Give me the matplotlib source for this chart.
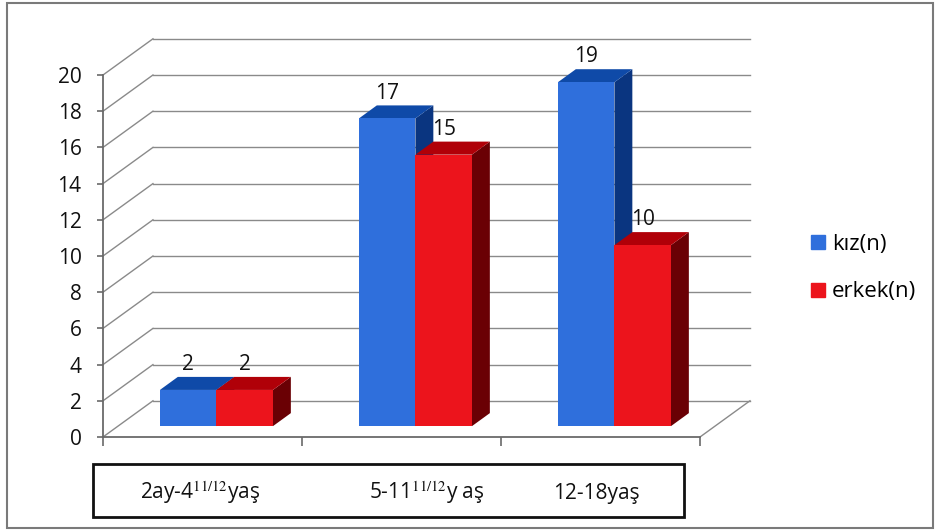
import matplotlib
matplotlib.use("Agg")
import matplotlib.pyplot as plt
from matplotlib.patches import Polygon, Rectangle
from matplotlib.lines import Line2D

plt.rcParams['font.family'] = ['Open Sans', 'DejaVu Sans']
plt.rcParams['mathtext.fontset'] = 'stix'

categories = ["2ay-4$^{\\mathrm{11/12}}$yaş", "5-11$^{\\mathrm{11/12}}$y aş", "12-18yaş"]
series = ["kız(n)", "erkek(n)"]
kiz = [2, 17, 19]
erkek = [2, 15, 10]
yticks = list(range(0, 21, 2))

# colours: front, top, side
blue = ("#2f6fdc", "#0f4aa8", "#0a3580")
red = ("#ec141c", "#b00008", "#6a0004")
grid_c = "#8a8a8a"
txt_c = "#111111"

# fake 3d geometry (data units)
wall_dx, wall_dy = 0.251, 2.0      # depth of back wall
bar_w = 0.284
bar_zx, bar_zy = 0.07, 0.6        # bar front plane offset
bar_dx, bar_dy = 0.09, 0.72       # bar depth

fig = plt.figure(figsize=(9.38, 5.32), dpi=100)
W, H = 938, 532
ax = fig.add_axes([103 / W, 1 - 437 / H, 597 / W, 362 / H])
ax.set_xlim(0, 3)
ax.set_ylim(0, 20)
ax.patch.set_visible(False)

# back wall grid with diagonal side wall lines
for v in yticks:
    ax.plot([0, wall_dx], [v, v + wall_dy], color=grid_c, lw=1, clip_on=False, zorder=1)
    ax.plot([wall_dx, 3 + wall_dx], [v + wall_dy, v + wall_dy], color=grid_c, lw=1,
            clip_on=False, zorder=1)
ax.plot([3, 3 + wall_dx], [0, wall_dy], color=grid_c, lw=1, clip_on=False, zorder=1)


def draw_bar(x0, v, cols):
    x1 = x0 + bar_w
    y0 = bar_zy
    y1 = bar_zy + v
    side = Polygon([(x1, y0), (x1, y1), (x1 + bar_dx, y1 + bar_dy), (x1 + bar_dx, y0 + bar_dy)],
                   closed=True, fc=cols[2], ec='none', clip_on=False, zorder=3)
    top = Polygon([(x0, y1), (x1, y1), (x1 + bar_dx, y1 + bar_dy), (x0 + bar_dx, y1 + bar_dy)],
                  closed=True, fc=cols[1], ec='none', clip_on=False, zorder=3)
    ax.add_patch(side)
    ax.add_patch(top)
    ax.bar(x0, v, width=bar_w, bottom=y0, align='edge', color=cols[0], zorder=3, clip_on=False)
    ax.text(x0 + bar_w / 2, y1 + bar_dy + 0.68, str(v), ha='center', va='center',
            fontsize=15, color=txt_c, zorder=5, clip_on=False)


for i in range(len(categories)):
    left = i + 0.5 - bar_w + bar_zx
    draw_bar(left, kiz[i], blue)
    draw_bar(left + bar_w, erkek[i], red)

# axes styling
for s in ['top', 'right']:
    ax.spines[s].set_visible(False)
for s in ['left', 'bottom']:
    ax.spines[s].set_color('#6a6a6a')
    ax.spines[s].set_linewidth(1.3)
ax.set_yticks(yticks)
ax.set_xticks([0, 1, 2, 3])
ax.set_xticklabels([])
ax.tick_params(axis='y', direction='out', length=4.5, width=1.2, color='#6a6a6a',
               pad=11, labelsize=15, labelcolor=txt_c)
ax.tick_params(axis='x', direction='out', length=6.5, width=1.2, color='#6a6a6a')

# category label box
fig.patches.append(Rectangle((93 / W, 1 - 517 / H), (684 - 93) / W, (517 - 464) / H,
                             transform=fig.transFigure, fill=False, ec=txt_c, lw=2))
label_x = [200, 427, 596]
for lx, name in zip(label_x, categories):
    fig.text(lx / W, 1 - 493 / H, name, ha='center', va='center', fontsize=15, color=txt_c)

# outer frame
fig.patches.append(Rectangle((7 / W, 1 - 528 / H), (933 - 7) / W, (528 - 3) / H,
                             transform=fig.transFigure, fill=False, ec='#7a7a7a', lw=1.5))

handles = [Line2D([], [], marker='s', ls='none', ms=9.5, mfc=blue[0], mec=blue[0]),
           Line2D([], [], marker='s', ls='none', ms=9.5, mfc=red[0], mec=red[0])]
fig.legend(handles, series, loc='center left', bbox_to_anchor=(810 / W, 1 - 268 / H),
           frameon=False, fontsize=16, handlelength=0.7, handletextpad=0.3,
           labelspacing=1.2, borderpad=0, borderaxespad=0)

fig.savefig("out.png", dpi=100)
